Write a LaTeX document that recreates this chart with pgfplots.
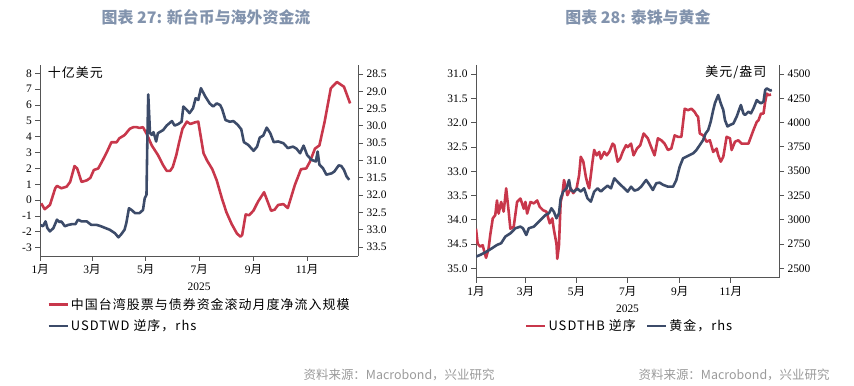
\documentclass[border=0pt]{standalone}
\usepackage{fontspec}
\setmainfont{Liberation Serif}
\newfontfamily\cjk{Noto Sans CJK SC}
\newfontfamily\cjkl{Noto Sans CJK SC}[LetterSpace=8]
\usepackage{pgfplots}
\pgfplotsset{compat=1.18}
\definecolor{rd}{HTML}{C8374B}
\definecolor{nv}{HTML}{3C4B69}
\definecolor{ttl}{HTML}{8293AD}
\definecolor{src}{HTML}{9A9A9A}
\definecolor{ax}{HTML}{555555}
\pgfplotsset{
  base/.style={
    scale only axis,
    /pgf/number format/assume math mode=true,
    tick label style={font=\fontsize{11.5}{12}\selectfont, text=black},
    axis line style={ax, line width=1pt},
    tick style={ax, line width=0.9pt},
    major tick length=5bp,
    tick align=outside,
    legend image code/.code={\draw[##1] (0bp,0bp) -- (19bp,0bp);},
  },
  rl/.style={rd, line width=2.6pt, line join=round},
  nl/.style={nv, line width=2.6pt, line join=round},
}
\begin{document}
\begin{tikzpicture}
\useasboundingbox (0bp,0bp) rectangle (854bp,386bp);
% titles
\node[text=ttl, font=\cjk\bfseries\fontsize{16}{18}\selectfont] at (206bp,369bp) {图表 27: 新台币与海外资金流};
\node[text=ttl, font=\cjk\bfseries\fontsize{16}{18}\selectfont] at (638bp,369bp) {图表 28: 泰铢与黄金};
\node[anchor=east, text=src, font=\cjk\fontsize{12.5}{14}\selectfont] at (498bp,11bp) {资料来源：Macrobond，兴业研究};
\node[anchor=east, text=src, font=\cjk\fontsize{12.5}{14}\selectfont] at (833bp,11bp) {资料来源：Macrobond，兴业研究};

% ---------------- left panel, left axis
\begin{axis}[base, at={(40.3bp,130bp)}, anchor=south west, width=317.7bp, height=191bp,
  xmin=0, xmax=362, ymin=-3.52, ymax=8.52,
  axis x line*=bottom, axis y line*=left,
  xtick={0,59,120,181,243,304},
  xticklabels={{1{\cjk 月}},{3{\cjk 月}},{5{\cjk 月}},{7{\cjk 月}},{9{\cjk 月}},{11{\cjk 月}}},
  ytick={-3,-2,-1,0,1,2,3,4,5,6,7,8},
  xlabel={2025}, xlabel style={at={(axis description cs:0.5,-0.162)}, anchor=center, font=\fontsize{11.5}{12}\selectfont},
  legend style={at={(axis description cs:0.012,-0.2)}, anchor=north west, draw=none, fill=none,
    font=\cjkl\fontsize{13}{14}\selectfont, row sep=5bp},
  legend cell align=left,
]
\addplot[rl] coordinates {(1,-0.2) (5,-0.57) (11,-0.3) (17,0.75) (19,0.9) (24,0.75) (30,0.85) (34,1.15) (39,2.15) (42,2.0) (47,1.15) (53,1.25) (57,1.4) (61,1.9) (66,2.0) (70,2.4) (76,3.05) (81,3.65) (87,3.65) (90,3.9) (96,4.1) (102,4.5) (106,4.6) (110,4.6) (113,4.55) (117,4.6) (121,4.2) (127,3.45) (134,2.85) (140,2.2) (144,1.85) (148,1.85) (151,2.1) (155,2.85) (158,3.6) (162,4.5) (167,4.95) (171,4.8) (176,4.9) (180,4.95) (186,2.95) (190,2.5) (196,1.95) (201,1.25) (207,0.1) (212,-0.75) (218,-1.5) (224,-2.1) (228,-2.3) (230,-2.2) (234,-0.9) (238,-0.95) (243,-0.65) (248,-0.1) (255,0.5) (263,-0.67) (267,-0.6) (271,-0.3) (277,-0.25) (282,-0.5) (290,0.95) (297,1.95) (303,2.0) (307,2.4) (313,3.25) (318,3.45) (324,4.95) (331,7.05) (338,7.45) (346,7.15) (353,6.1)};
\addlegendentry{中国台湾股票与债券资金滚动月度净流入规模}
\addlegendimage{nl}
\addlegendentry{USDTWD 逆序，rhs}
\node[anchor=west, font=\cjkl\fontsize{13}{14}\selectfont] at (axis description cs:0.013,0.962) {十亿美元};
\end{axis}
% ---------------- left panel, right axis
\begin{axis}[base, at={(40.3bp,130bp)}, anchor=south west, width=317.7bp, height=191bp,
  xmin=0, xmax=362, ymin=28.24, ymax=33.76, y dir=reverse,
  axis x line=none, axis y line*=right,
  ytick={28.5,29,29.5,30,30.5,31,31.5,32,32.5,33,33.5},
  yticklabel style={/pgf/number format/.cd, fixed, fixed zerofill, precision=1},
]
\addplot[nl] coordinates {(0,32.86) (3,32.9) (6,32.76) (8,32.95) (11,33.05) (15,32.95) (19,32.71) (22,32.78) (24,32.76) (28,32.9) (32,32.86) (36,32.84) (40,32.84) (43,32.71) (47,32.76) (53,32.76) (58,32.86) (64,32.86) (68,32.89) (74,32.95) (79,33.0) (85,33.1) (89,33.22) (92,33.14) (96,33.0) (98,32.81) (101,32.38) (104,32.43) (108,32.52) (113,32.52) (117,32.43) (119,32.09) (121,31.99) (122,30.36) (123,29.09) (125,30.21) (127,30.26) (129,30.18) (132,30.45) (134,30.21) (140,30.12) (144,29.99) (150,29.86) (153,29.99) (157,29.95) (161,29.88) (163,29.44) (167,29.54) (170,29.63) (174,29.49) (177,29.2) (180,29.25) (183,28.91) (188,29.15) (193,29.35) (197,29.44) (201,29.35) (205,29.4) (207,29.5) (211,29.83) (216,29.88) (220,29.86) (225,29.97) (229,30.1) (232,30.47) (237,30.55) (243,30.72) (247,30.6) (250,30.34) (254,30.28) (258,30.05) (262,30.21) (266,30.47) (271,30.45) (277,30.5) (282,30.64) (288,30.6) (292,30.66) (296,30.79) (300,30.57) (304,30.84) (309,30.98) (314,31.03) (316,30.74) (318,31.12) (322,31.22) (326,31.41) (332,31.37) (335,31.32) (340,31.14) (343,31.16) (346,31.27) (349,31.46) (352,31.56)};
\end{axis}

% ---------------- right panel, left axis (THB reversed)
\begin{axis}[base, at={(476bp,108.3bp)}, anchor=south west, width=303bp, height=212.7bp,
  xmin=0, xmax=361.5, ymin=30.81, ymax=35.19, y dir=reverse,
  axis x line*=bottom, axis y line*=left,
  xtick={0,59,120,181,243,304},
  xticklabels={{1{\cjk 月}},{3{\cjk 月}},{5{\cjk 月}},{7{\cjk 月}},{9{\cjk 月}},{11{\cjk 月}}},
  ytick={31,31.5,32,32.5,33,33.5,34,34.5,35},
  yticklabel style={/pgf/number format/.cd, fixed, fixed zerofill, precision=1},
  xlabel={2025}, xlabel style={at={(axis description cs:0.5,-0.147)}, anchor=center, font=\fontsize{11.5}{12}\selectfont},
  legend style={at={(axis description cs:0.507,-0.227)}, anchor=center, draw=none, fill=none,
    font=\cjkl\fontsize{13}{14}\selectfont, legend columns=2, /tikz/every even column/.append style={column sep=8bp}},
]
\addplot[rl] coordinates {(0,34.18) (2,34.49) (5,34.55) (8,34.52) (10,34.66) (12,34.78) (15,34.59) (17,34.31) (20,33.97) (23,33.9) (25,33.6) (27,33.87) (30,33.63) (33,33.83) (36,33.35) (39,33.83) (41,34.18) (45,34.14) (49,33.63) (53,33.56) (57,33.77) (59,33.63) (61,33.87) (65,33.63) (69,33.66) (73,33.6) (76,33.73) (80,33.8) (84,33.83) (88,34.07) (91,33.97) (93,34.21) (96,34.49) (97,34.8) (99,34.52) (101,33.63) (103,33.49) (105,33.18) (107,33.32) (109,33.49) (113,33.35) (116,33.45) (120,33.35) (123,33.08) (125,32.7) (128,32.8) (131,33.11) (133,33.25) (135,33.35) (137,33.08) (139,32.8) (141,32.56) (144,32.67) (147,32.6) (149,32.74) (153,32.6) (156,32.67) (159,32.6) (163,32.43) (165,32.46) (169,32.8) (172,32.74) (175,32.6) (179,32.46) (181,32.5) (185,32.43) (188,32.67) (192,32.53) (196,32.46) (200,32.22) (205,32.32) (209,32.5) (213,32.67) (217,32.32) (221,32.36) (225,32.43) (229,32.56) (233,32.53) (237,32.26) (241,32.29) (245,32.29) (249,31.71) (253,31.74) (257,31.71) (261,31.78) (263,31.84) (265,31.88) (267,32.22) (271,32.26) (275,32.39) (279,32.36) (283,32.6) (287,32.53) (289,32.67) (292,32.8) (295,32.7) (299,32.29) (303,32.32) (305,32.56) (309,32.39) (313,32.36) (317,32.43) (321,32.43) (325,32.43) (328,32.29) (331,32.15) (335,31.98) (337,31.95) (340,31.81) (343,31.81) (345,31.57) (347,31.4) (349,31.43) (352,31.42)};
\addlegendentry{USDTHB 逆序}
\addlegendimage{nl}
\addlegendentry{黄金，rhs}
\end{axis}
% ---------------- right panel, right axis (gold)
\begin{axis}[base, at={(476bp,108.3bp)}, anchor=south west, width=303bp, height=212.7bp,
  xmin=0, xmax=361.5, ymin=2403, ymax=4593,
  axis x line=none, axis y line*=right,
  ytick={2500,2750,3000,3250,3500,3750,4000,4250,4500},
  yticklabel style={/pgf/number format/.cd, fixed, 1000 sep={}},
]
\addplot[nl] coordinates {(0,2620) (5,2637) (9,2655) (14,2679) (19,2706) (25,2740) (30,2758) (35,2826) (41,2860) (47,2912) (53,2929) (56,2912) (60,2843) (63,2912) (69,2929) (75,2980) (79,3015) (83,3049) (87,3066) (90,3118) (93,3080) (96,3015) (99,3066) (101,3220) (104,3289) (108,3323) (111,3409) (113,3306) (117,3289) (121,3320) (125,3290) (129,3323) (133,3220) (137,3186) (141,3289) (145,3323) (149,3290) (153,3323) (157,3350) (161,3323) (165,3426) (169,3390) (173,3355) (177,3323) (181,3289) (185,3340) (189,3300) (193,3310) (197,3340) (200,3375) (203,3409) (207,3360) (211,3306) (215,3375) (219,3382) (223,3360) (229,3340) (235,3340) (239,3409) (243,3546) (247,3632) (251,3649) (255,3666) (259,3683) (263,3718) (267,3769) (271,3821) (274,3889) (277,3923) (280,4009) (283,4129) (285,4198) (289,4284) (292,4198) (295,4130) (297,4027) (300,3960) (303,3975) (307,3990) (311,4061) (313,4110) (316,4181) (319,4095) (321,4078) (325,4112) (328,4095) (331,4146) (335,4232) (337,4215) (340,4198) (343,4215) (345,4335) (347,4352) (351,4330) (353,4335)};
\node[anchor=east, font=\cjkl\fontsize{13}{14}\selectfont] at (axis description cs:0.97,0.966) {美元/盎司};
\end{axis}
\end{tikzpicture}
\end{document}
